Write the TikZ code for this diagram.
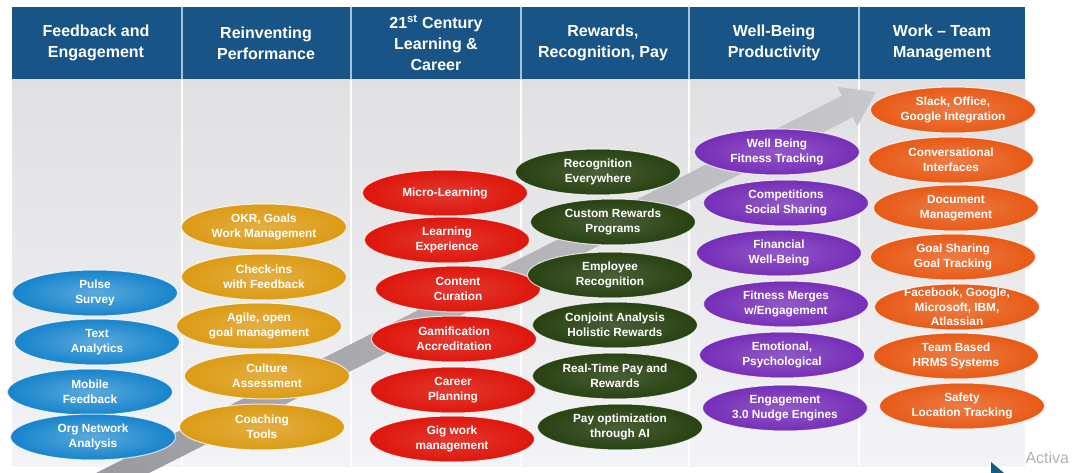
\documentclass[tikz,border=0pt]{standalone}
\usepackage{fontspec}
\setmainfont{Liberation Sans}
\usepackage{xcolor}
\usepackage{tikz}
\usetikzlibrary{shapes.geometric,calc}
\definecolor{headblue}{RGB}{24,84,133}
\definecolor{headsep}{RGB}{165,195,220}
\definecolor{bgtop}{RGB}{224,223,225}
\definecolor{bgbottom}{RGB}{243,244,247}
\definecolor{arrowdark}{RGB}{150,150,156}
\definecolor{arrowlight}{RGB}{200,200,204}
\definecolor{bubblue}{RGB}{22,132,204}
\definecolor{bubgold}{RGB}{220,155,20}
\definecolor{bubred}{RGB}{222,22,12}
\definecolor{bubgreen}{RGB}{40,66,18}
\definecolor{bubpurple}{RGB}{118,46,184}
\definecolor{buborange}{RGB}{232,90,22}
\tikzset{
  bubble/.style={ellipse, minimum width=165pt, minimum height=46pt,
    inner xsep=0pt, inner ysep=-5pt, draw=white, draw opacity=0.75,
    line width=1pt, text=white, align=center,
    font=\bfseries\fontsize{11.8}{14.5}\selectfont},
  blueB/.style={inner color=bubblue!70!white, outer color=bubblue},       % feedback
  goldB/.style={inner color=bubgold!80!white, outer color=bubgold},       % performance
  redB/.style={inner color=bubred!85!white, outer color=bubred},          % learning
  greenB/.style={inner color=bubgreen!85!white, outer color=bubgreen},    % rewards
  purpleB/.style={inner color=bubpurple!80!white, outer color=bubpurple}, % well-being
  orangeB/.style={inner color=buborange!80!white, outer color=buborange}, % team
  headtxt/.style={text=white, align=center, font=\bfseries\fontsize{16}{21}\selectfont},
  headline/.style={draw=headsep, line width=1.5pt},
  colline/.style={draw=white, line width=1.5pt}
}
\newcommand{\DrawBackdrop}{%
  \shade[top color=bgtop, bottom color=bgbottom] (12,79) rectangle (1025,466);
  \foreach \x in {182,351,521,689,859}{%
    \draw[colline] (\x,79) -- (\x,466);
  }%
  \fill[headblue] (12,7) rectangle (1025,79);
  \foreach \x in {182,351,521,689,859}{%
    \draw[headline] (\x,7) -- (\x,79);
  }%
}

\begin{document}
\begin{tikzpicture}[x=1pt, y=-1pt]
  \useasboundingbox (0,0) rectangle (1077,473);
  \clip (0,0) rectangle (1077,473);
  \DrawBackdrop
  % header titles
  \foreach \n/\x/\t in {h1/96/{Feedback and\\Engagement}, h2/266/{Reinventing\\Performance},
      h3/436/{21\textsuperscript{st} Century\\Learning \&\\Career}, h4/603/{Rewards,\\Recognition, Pay},
      h5/774/{Well-Being\\Productivity}, h6/942/{Work \textendash{} Team\\Management}}
    \node[headtxt] (\n) at (\x,43) {\t};
  % rising gray arrow behind the bubbles
  \shade[left color=arrowdark, right color=arrowlight]
    (38.3,502.2) -- (842.0,95.8) -- (837.5,86.9) -- (876,92)
    -- (857.3,126.1) -- (852.8,117.2) -- (49.1,523.6) -- cycle;
  % feedback and engagement
  \foreach \n/\x/\y/\t in {b1/95/293/{Pulse\\Survey}, b2/97/342/{Text\\Analytics},
      b3/90/392/{Mobile\\Feedback}, b4/93/437/{Org Network\\Analysis}}
    \node[bubble, blueB] (\n) at (\x,\y) {\t};
  % reinventing performance
  \foreach \n/\x/\y/\t in {g1/264/227/{OKR, Goals\\Work Management}, g2/264/277/{Check-ins\\with Feedback},
      g3/259/326/{Agile, open\\goal management}, g4/267/376/{Culture\\Assessment},
      g5/262/427/{Coaching\\Tools}}
    \node[bubble, goldB] (\n) at (\x,\y) {\t};
  % learning and career
  \foreach \n/\x/\y/\t in {r1/445/193/{Micro-Learning}, r2/447/240/{Learning\\Experience},
      r3/458/289/{Content\\Curation}, r4/454/339/{Gamification\\Accreditation},
      r5/453/390/{Career\\Planning}, r6/452/439/{Gig work\\management}}
    \node[bubble, redB] (\n) at (\x,\y) {\t};
  % rewards, recognition, pay
  \foreach \n/\x/\y/\t in {d1/598/172/{Recognition\\Everywhere}, d2/613/222/{Custom Rewards\\Programs},
      d3/610/275/{Employee\\Recognition}, d4/615/325/{Conjoint Analysis\\Holistic Rewards},
      d5/615/376/{Real-Time Pay and\\Rewards}, d6/620/427/{Pay optimization\\through AI}}
    \node[bubble, greenB] (\n) at (\x,\y) {\t};
  % well-being productivity
  \foreach \n/\x/\y/\t in {p1/777/152/{Well Being\\Fitness Tracking}, p2/786/203/{Competitions\\Social Sharing},
      p3/779/253/{Financial\\Well-Being}, p4/786/304/{Fitness Merges\\w/Engagement},
      p5/782/355/{Emotional,\\Psychological}, p6/785/408/{Engagement\\3.0 Nudge Engines}}
    \node[bubble, purpleB] (\n) at (\x,\y) {\t};
  % work - team management
  \foreach \n/\x/\y/\t in {o1/953/110/{Slack, Office,\\Google Integration}, o2/951/160/{Conversational\\Interfaces},
      o3/956/208/{Document\\Management}, o4/953/257/{Goal Sharing\\Goal Tracking},
      o5/957/307/{Facebook, Google,\\Microsoft, IBM,\\Atlassian}, o6/956/356/{Team Based\\HRMS Systems},
      o7/962/406/{Safety\\Location Tracking}}
    \node[bubble, orangeB] (\n) at (\x,\y) {\t};
  % leftovers of the screen capture
  \fill[headblue!80!teal] (991,462) -- (1004,473) -- (991,473) -- cycle;
  \node[anchor=west, text=black!30, font=\fontsize{16}{18}\selectfont] (act) at (1022,458) {Activa};
\end{tikzpicture}
\end{document}
